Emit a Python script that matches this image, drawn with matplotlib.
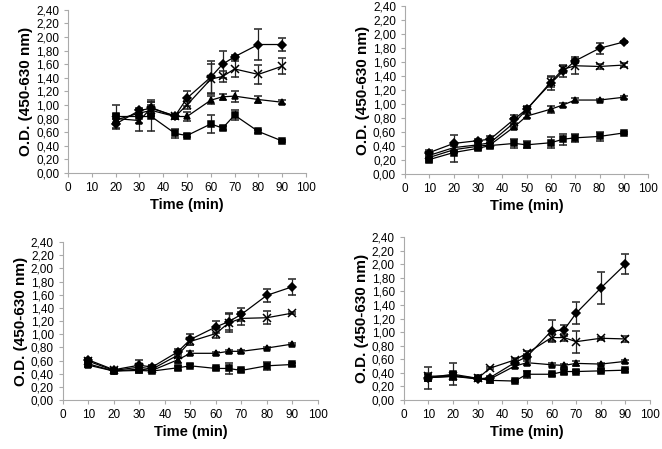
import numpy as np
import matplotlib
matplotlib.use("Agg")
import matplotlib.pyplot as plt
from matplotlib.ticker import FuncFormatter

plt.rcParams['font.family'] = ['Liberation Sans', 'DejaVu Sans']

# panel A (top left)
time_a = [20, 30, 35, 45, 50, 60, 65, 70, 80, 90]
diam_a = [0.72, 0.92, 0.95, 0.84, 1.10, 1.41, 1.60, 1.71, 1.89, 1.89]
diam_a_err = [0.07, 0.04, 0.10, 0.03, 0.11, 0.24, 0.20, 0.03, 0.23, 0.10]
cross_a = [0.78, 0.88, 0.92, 0.83, 1.00, 1.38, 1.42, 1.53, 1.45, 1.57]
cross_a_err = [0.06, 0.05, 0.08, 0.03, 0.06, 0.22, 0.08, 0.12, 0.14, 0.12]
tri_a = [0.80, 0.77, 0.96, 0.83, 0.83, 1.07, 1.12, 1.13, 1.08, 1.04]
tri_a_err = [0.06, 0.15, 0.12, 0.04, 0.07, 0.06, 0.04, 0.08, 0.05, 0.03]
sq_a = [0.83, 0.83, 0.83, 0.58, 0.55, 0.72, 0.66, 0.85, 0.61, 0.47]
sq_a_err = [0.17, 0.10, 0.21, 0.07, 0.02, 0.13, 0.03, 0.07, 0.02, 0.02]

# panel B (top right)
time_b = [10, 20, 30, 35, 45, 50, 60, 65, 70, 80, 90]
diam_b = [0.31, 0.44, 0.48, 0.50, 0.79, 0.93, 1.30, 1.47, 1.62, 1.80, 1.89]
diam_b_err = [0.04, 0.12, 0.03, 0.04, 0.06, 0.04, 0.10, 0.08, 0.03, 0.08, 0.02]
cross_b = [0.27, 0.38, 0.42, 0.45, 0.74, 0.92, 1.32, 1.50, 1.55, 1.54, 1.56]
cross_b_err = [0.04, 0.06, 0.03, 0.04, 0.06, 0.04, 0.07, 0.06, 0.12, 0.03, 0.03]
tri_b = [0.24, 0.35, 0.40, 0.42, 0.68, 0.83, 0.93, 0.99, 1.06, 1.06, 1.10]
tri_b_err = [0.03, 0.05, 0.03, 0.03, 0.04, 0.03, 0.05, 0.03, 0.03, 0.02, 0.02]
sq_b = [0.21, 0.31, 0.37, 0.41, 0.44, 0.42, 0.45, 0.50, 0.52, 0.54, 0.59]
sq_b_err = [0.03, 0.13, 0.03, 0.04, 0.06, 0.05, 0.08, 0.08, 0.06, 0.07, 0.02]

# panel C (bottom left)
time_c = [10, 20, 30, 35, 45, 50, 60, 65, 70, 80, 90]
diam_c = [0.61, 0.46, 0.53, 0.50, 0.73, 0.92, 1.11, 1.19, 1.30, 1.59, 1.72]
diam_c_err = [0.03, 0.02, 0.08, 0.03, 0.05, 0.08, 0.09, 0.13, 0.10, 0.10, 0.12]
cross_c = [0.59, 0.45, 0.50, 0.47, 0.68, 0.89, 1.01, 1.17, 1.24, 1.25, 1.32]
cross_c_err = [0.03, 0.02, 0.05, 0.03, 0.04, 0.05, 0.07, 0.13, 0.10, 0.10, 0.02]
tri_c = [0.53, 0.44, 0.47, 0.45, 0.61, 0.71, 0.71, 0.74, 0.74, 0.79, 0.85]
tri_c_err = [0.03, 0.02, 0.04, 0.03, 0.04, 0.03, 0.02, 0.02, 0.02, 0.02, 0.02]
sq_c = [0.55, 0.44, 0.45, 0.44, 0.49, 0.52, 0.48, 0.48, 0.45, 0.52, 0.54]
sq_c_err = [0.03, 0.02, 0.04, 0.02, 0.03, 0.02, 0.02, 0.08, 0.02, 0.06, 0.03]

# panel D (bottom right)
time_d = [10, 20, 30, 35, 45, 50, 60, 65, 70, 80, 90]
diam_d = [0.33, 0.35, 0.31, 0.33, 0.55, 0.64, 1.02, 1.03, 1.28, 1.65, 2.00]
diam_d_err = [0.05, 0.05, 0.02, 0.03, 0.04, 0.04, 0.16, 0.08, 0.16, 0.24, 0.15]
cross_d = [0.35, 0.36, 0.32, 0.47, 0.59, 0.69, 0.92, 0.92, 0.86, 0.91, 0.90]
cross_d_err = [0.05, 0.05, 0.02, 0.02, 0.03, 0.03, 0.05, 0.05, 0.16, 0.02, 0.05]
tri_d = [0.33, 0.35, 0.32, 0.31, 0.50, 0.55, 0.52, 0.51, 0.54, 0.53, 0.57]
tri_d_err = [0.05, 0.05, 0.02, 0.02, 0.03, 0.03, 0.02, 0.02, 0.04, 0.02, 0.02]
sq_d = [0.33, 0.38, 0.32, 0.29, 0.28, 0.38, 0.38, 0.42, 0.42, 0.43, 0.44]
sq_d_err = [0.16, 0.16, 0.02, 0.04, 0.02, 0.05, 0.02, 0.03, 0.02, 0.02, 0.02]

panels = [
    ([0.103, 0.615, 0.359, 0.363], time_a,
     [(diam_a, diam_a_err, 'D'), (cross_a, cross_a_err, 'x'),
      (tri_a, tri_a_err, '^'), (sq_a, sq_a_err, 's')]),
    ([0.612, 0.612, 0.367, 0.374], time_b,
     [(diam_b, diam_b_err, 'D'), (cross_b, cross_b_err, 'x'),
      (tri_b, tri_b_err, '^'), (sq_b, sq_b_err, 's')]),
    ([0.095, 0.109, 0.385, 0.352], time_c,
     [(diam_c, diam_c_err, 'D'), (cross_c, cross_c_err, 'x'),
      (tri_c, tri_c_err, '^'), (sq_c, sq_c_err, 's')]),
    ([0.610, 0.109, 0.372, 0.363], time_d,
     [(diam_d, diam_d_err, 'D'), (cross_d, cross_d_err, 'x'),
      (tri_d, tri_d_err, '^'), (sq_d, sq_d_err, 's')]),
]

comma_fmt = FuncFormatter(lambda v, pos: f"{v:.2f}".replace('.', ','))

fig = plt.figure(figsize=(6.62, 4.49), dpi=100)
for rect, t, series in panels:
    ax = fig.add_axes(rect)
    for vals, errs, mk in series:
        ms = 4.2 if mk != 'x' else 5.5
        ax.errorbar(t, vals, yerr=errs, color='black', marker=mk, ms=ms,
                    mew=1.1, lw=0.9, capsize=3, elinewidth=0.9, ecolor='#222222')
    ax.set_xlim(0, 100)
    ax.set_ylim(0, 2.4)
    ax.set_xticks(np.arange(0, 101, 10))
    ax.set_yticks(np.arange(0, 2.41, 0.2))
    ax.yaxis.set_major_formatter(comma_fmt)
    for s in ['top', 'right']:
        ax.spines[s].set_visible(False)
    for s in ['left', 'bottom']:
        ax.spines[s].set_color('#aaaaaa')
        ax.spines[s].set_linewidth(0.8)
    ax.tick_params(axis='both', colors='#aaaaaa', labelcolor='black',
                   labelsize=8.5, length=3, width=0.8)
    ax.set_xlabel("Time (min)", fontsize=10.5, fontweight='bold', labelpad=3)
    ax.set_ylabel("O.D. (450-630 nm)", fontsize=11, fontweight='bold', labelpad=2)

fig.savefig("out.png", dpi=100)
